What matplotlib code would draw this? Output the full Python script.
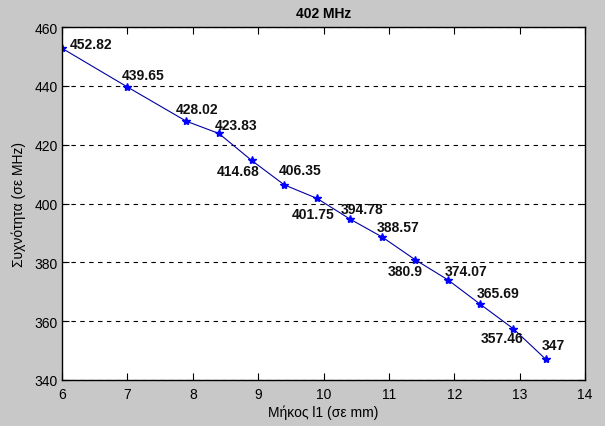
import matplotlib.pyplot as plt

# measured data
length_mm = [6, 7, 7.9, 8.4, 8.9, 9.4, 9.9, 10.4, 10.9, 11.4, 11.9, 12.4, 12.9, 13.4]
freq_mhz = [452.82, 439.65, 428.02, 423.83, 414.68, 406.35, 401.75,
            394.78, 388.57, 380.9, 374.07, 365.69, 357.46, 347]
point_labels = ["452.82", "439.65", "428.02", "423.83", "414.68", "406.35", "401.75",
                "394.78", "388.57", "380.9", "374.07", "365.69", "357.46", "347"]

x_ticks = [6, 7, 8, 9, 10, 11, 12, 13, 14]
y_ticks = [340, 360, 380, 400, 420, 440, 460]

# label offsets in pixels (left edge, vertical centre) relative to the point
label_offsets = [(8, 4), (-6, 12), (-10, 12), (-4, 8), (-35, -11), (-6, 15), (-25, -16),
                 (-9, 10), (-6, 10), (-27, -11), (-3, 9), (-4, 11), (-32, -9), (-4, 14)]

plt.rcParams['font.family'] = ['Liberation Sans', 'DejaVu Sans']

fig = plt.figure(figsize=(6.05, 4.27), dpi=100, facecolor='#c8c8c8')
ax = fig.add_axes([0.1025, 0.108, 0.8645, 0.826])
ax.set_facecolor('white')

ax.plot(length_mm, freq_mhz, '-', color='#0000a0', lw=0.8)
ax.plot(length_mm, freq_mhz, '*', color='#0000ff', ms=6, mec='#0000ff')

for x, y, txt, (dx, dy) in zip(length_mm, freq_mhz, point_labels, label_offsets):
    ax.annotate(txt, (x, y), xytext=(dx, dy), textcoords='offset pixels',
                ha='left', va='center', fontsize=10, fontweight='bold', color='#111111')

ax.set_xlim(6, 14)
ax.set_ylim(340, 460)
ax.set_xticks(x_ticks)
ax.set_yticks(y_ticks)
ax.yaxis.grid(True, linestyle=(0, (4, 4)), color='black', lw=0.8)
ax.tick_params(direction='in', top=True, right=True, labelsize=10, length=5)
ax.tick_params(axis='x', pad=5)
ax.tick_params(axis='y', pad=3)
for s in ax.spines.values():
    s.set_linewidth(1.0)

ax.set_title('402 MHz', fontsize=10, fontweight='bold', pad=7)
ax.set_xlabel('Μήκος l1 (σε mm)', fontsize=10, labelpad=3)
ax.set_ylabel('Συχνότητα (σε MHz)', fontsize=10, labelpad=6)

fig.savefig('out.png', dpi=100, facecolor=fig.get_facecolor())
